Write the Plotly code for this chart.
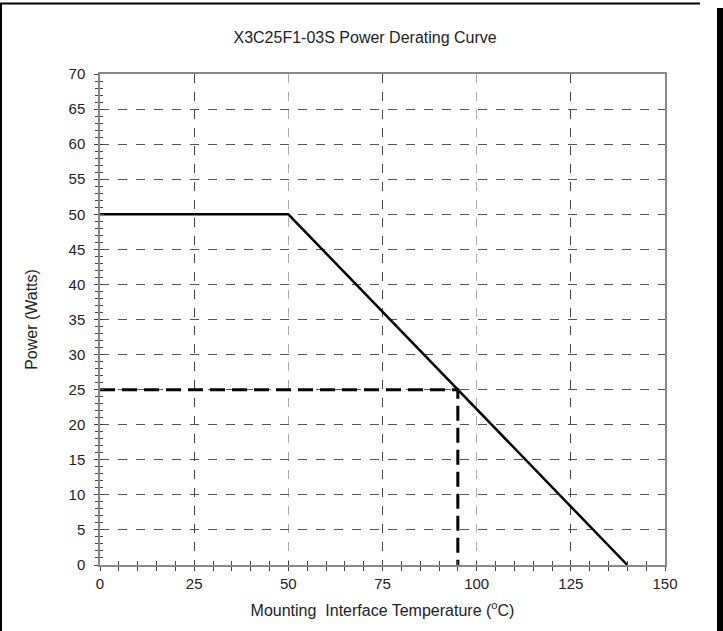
import plotly.graph_objects as go

# ---- data ----
derate_temp = [0, 50, 140]
derate_power = [50, 50, 0]
ref_temp = [0, 95, 95]
ref_power = [25, 25, 0]

title_text = "X3C25F1-03S Power Derating Curve"
x_title = "Mounting  Interface Temperature (<sup>o</sup>C)"
y_title = "Power (Watts)"

W, H = 723, 631
L, R, T, B = 100, 58, 74, 66
pw, ph = W - L - R, H - T - B

def px2x(px):
    return (px - L) / pw

def py2y(py):
    return 1 - (py - T) / ph

font = dict(family="Liberation Sans, Arial, sans-serif", size=15, color="#222")

fig = go.Figure()
fig.add_trace(go.Scatter(x=derate_temp, y=derate_power, mode="lines",
                         line=dict(color="black", width=2.5), showlegend=False,
                         hoverinfo="skip"))
fig.add_trace(go.Scatter(x=ref_temp, y=ref_power, mode="lines",
                         line=dict(color="black", width=3, dash="15px,7px"),
                         showlegend=False, hoverinfo="skip"))
# invisible trace to activate overlay axes
fig.add_trace(go.Scatter(x=[0], y=[0], xaxis="x2", yaxis="y2", mode="markers",
                         marker=dict(opacity=0), showlegend=False, hoverinfo="skip"))

fig.update_layout(
    width=W, height=H,
    margin=dict(l=L, r=R, t=T, b=B, autoexpand=False),
    paper_bgcolor="white", plot_bgcolor="white",
    font=font,
    title=dict(text=title_text, x=0.505, xref="container", xanchor="center",
               y=1 - 37 / H, yref="container", yanchor="middle",
               font=dict(size=16, color="#222")),
    xaxis=dict(range=[0, 150], tick0=0, dtick=25, showgrid=True,
               gridcolor="#aaaaaa", griddash="dash", gridwidth=1,
               showline=True, linecolor="#888888", linewidth=1.5, mirror=True,
               ticks="outside", ticklen=4, tickcolor="#444",
               minor=dict(dtick=5, ticks="outside", ticklen=4, tickcolor="#444", showgrid=False),
               zeroline=False, fixedrange=True, automargin=False,
               title=dict(text=x_title, standoff=14, font=dict(size=16))),
    xaxis2=dict(range=[0, 150], overlaying="x", anchor="y", side="bottom",
                tick0=25, dtick=50, showgrid=True, gridcolor="#444444",
                griddash="dash", gridwidth=1, showticklabels=False,
                ticks="inside", ticklen=4, tickcolor="#444",
                minor=dict(dtick=5, ticks="inside", ticklen=4, tickcolor="#444", showgrid=False),
                showline=False, zeroline=False, fixedrange=True, automargin=False),
    yaxis=dict(range=[0, 70], tick0=0, dtick=5, showgrid=True,
               gridcolor="#555555", griddash="dash", gridwidth=1,
               showline=True, linecolor="#888888", linewidth=1.5, mirror=True,
               ticks="outside", ticklen=4, tickcolor="#444",
               minor=dict(dtick=1, ticks="outside", ticklen=3, tickcolor="#444", showgrid=False),
               zeroline=False, fixedrange=True, ticklabelstandoff=6, automargin=False,
               title=dict(text=y_title, standoff=27, font=dict(size=16))),
    yaxis2=dict(range=[0, 70], overlaying="y", anchor="x", side="left",
                tick0=0, dtick=5, showgrid=False, showticklabels=False,
                ticks="inside", ticklen=4, tickcolor="#444",
                minor=dict(dtick=1, ticks="inside", ticklen=3, tickcolor="#444"),
                showline=False, zeroline=False, fixedrange=True, automargin=False),
    shapes=[
        dict(type="line", xref="paper", yref="paper", x0=px2x(1), x1=px2x(1),
             y0=py2y(3), y1=py2y(H), line=dict(color="black", width=2)),
        dict(type="line", xref="paper", yref="paper", x0=px2x(0), x1=px2x(700),
             y0=py2y(3.5), y1=py2y(3.5), line=dict(color="black", width=2)),
        dict(type="rect", xref="paper", yref="paper", x0=px2x(717), x1=px2x(723),
             y0=py2y(8), y1=py2y(H), line=dict(width=0), fillcolor="black"),
    ],
)

fig.write_html("out.html", config={"displayModeBar": False},
               post_script="document.body.style.margin='0';document.body.style.overflow='hidden';")
